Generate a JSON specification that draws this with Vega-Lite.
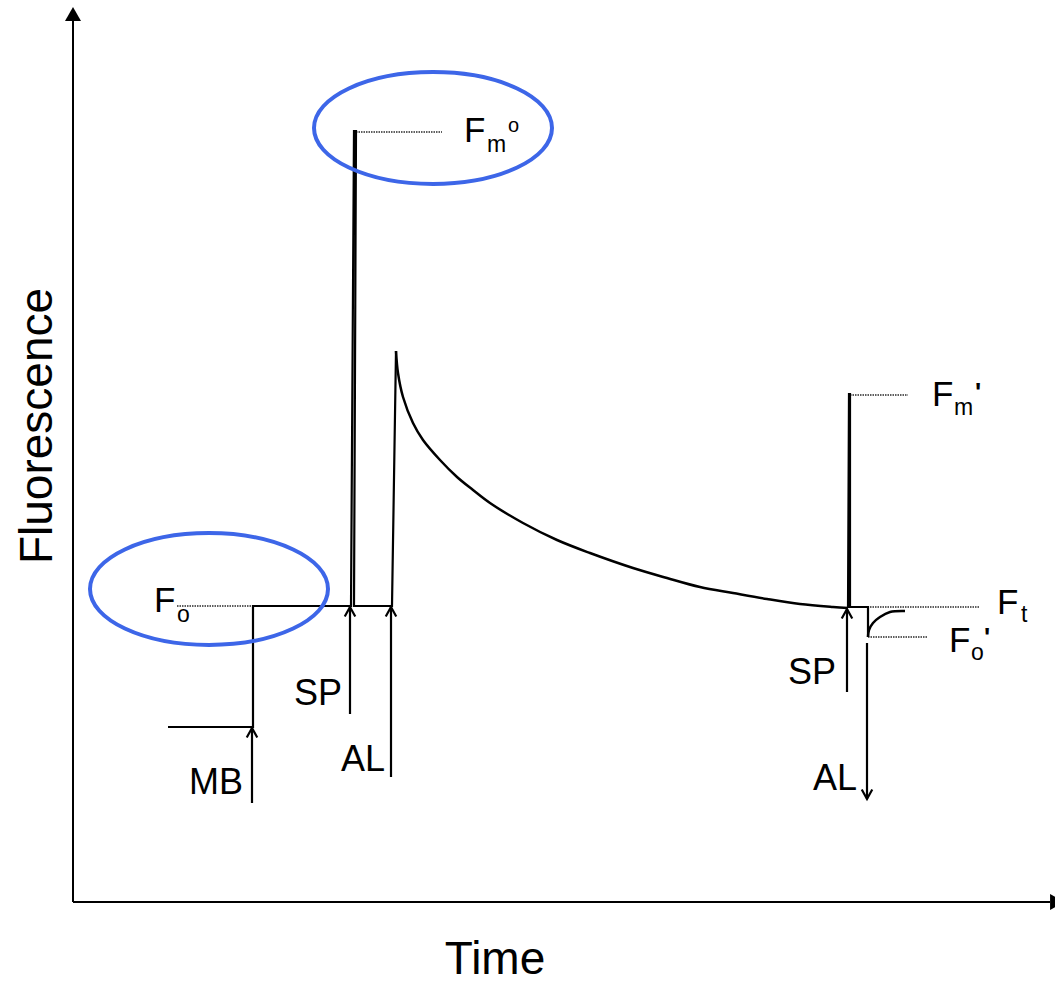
{
  "$schema": "https://vega.github.io/schema/vega-lite/v6.json",
  "width": 1055,
  "height": 982,
  "autosize": {"type": "none"},
  "padding": 0,
  "background": "white",
  "config": {"view": {"stroke": null}},
  "datasets": {
    "axes": [
      {"x": 0, "y": 0, "x2": 977, "y2": 0},
      {"x": 0, "y": 0, "x2": 0, "y2": 882}
    ],
    "yhead": [{"x": 0, "y": 888}],
    "xhead": [{"x": 984, "y": 0}],
    "trace": [
      {"part": "step1", "i": 1, "x": 95, "y": 175},
      {"part": "step1", "i": 2, "x": 180, "y": 175},
      {"part": "step1", "i": 3, "x": 180, "y": 296},
      {"part": "step1", "i": 4, "x": 278, "y": 296},
      {"part": "step1", "i": 5, "x": 281, "y": 771},
      {"part": "step1", "i": 6, "x": 283, "y": 771},
      {"part": "step1", "i": 7, "x": 281, "y": 296},
      {"part": "step1", "i": 8, "x": 319, "y": 296},
      {"part": "step1", "i": 9, "x": 323, "y": 551},
      {"part": "decay", "i": 1, "x": 323, "y": 551},
      {"part": "decay", "i": 2, "x": 325, "y": 529},
      {"part": "decay", "i": 3, "x": 330, "y": 505},
      {"part": "decay", "i": 4, "x": 340, "y": 479},
      {"part": "decay", "i": 5, "x": 350, "y": 462},
      {"part": "decay", "i": 6, "x": 367, "y": 442},
      {"part": "decay", "i": 7, "x": 384, "y": 425},
      {"part": "decay", "i": 8, "x": 400, "y": 412},
      {"part": "decay", "i": 9, "x": 417, "y": 399},
      {"part": "decay", "i": 10, "x": 450, "y": 379},
      {"part": "decay", "i": 11, "x": 484, "y": 362},
      {"part": "decay", "i": 12, "x": 517, "y": 349},
      {"part": "decay", "i": 13, "x": 560, "y": 334},
      {"part": "decay", "i": 14, "x": 594, "y": 324},
      {"part": "decay", "i": 15, "x": 627, "y": 315},
      {"part": "decay", "i": 16, "x": 660, "y": 309},
      {"part": "decay", "i": 17, "x": 694, "y": 303},
      {"part": "decay", "i": 18, "x": 727, "y": 298},
      {"part": "decay", "i": 19, "x": 760, "y": 295},
      {"part": "decay", "i": 20, "x": 775, "y": 294},
      {"part": "step2", "i": 1, "x": 775, "y": 294},
      {"part": "step2", "i": 2, "x": 776, "y": 508},
      {"part": "step2", "i": 3, "x": 777, "y": 508},
      {"part": "step2", "i": 4, "x": 777, "y": 295},
      {"part": "step2", "i": 5, "x": 795, "y": 295},
      {"part": "step2", "i": 6, "x": 795, "y": 265},
      {"part": "recover", "i": 1, "x": 795, "y": 265},
      {"part": "recover", "i": 2, "x": 796, "y": 272},
      {"part": "recover", "i": 3, "x": 800, "y": 279},
      {"part": "recover", "i": 4, "x": 807, "y": 285},
      {"part": "recover", "i": 5, "x": 817, "y": 290},
      {"part": "recover", "i": 6, "x": 832, "y": 291}
    ],
    "levels": [
      {"name": "Fo", "x": 104, "x2": 180, "y": 296},
      {"name": "Fm0", "x": 283, "x2": 369, "y": 770},
      {"name": "Fm'", "x": 777, "x2": 835, "y": 507},
      {"name": "Ft", "x": 777, "x2": 907, "y": 295},
      {"name": "Fo'", "x": 795, "x2": 855, "y": 265}
    ],
    "shafts": [
      {"name": "MB", "x": 179, "y": 174, "y2": 99},
      {"name": "SP", "x": 277, "y": 295, "y2": 188},
      {"name": "AL", "x": 318, "y": 295, "y2": 125},
      {"name": "SP", "x": 774, "y": 293, "y2": 210},
      {"name": "AL", "x": 794, "y": 259, "y2": 103}
    ],
    "upheads": [
      {"x": 179, "y": 174},
      {"x": 277, "y": 295},
      {"x": 318, "y": 295},
      {"x": 774, "y": 293}
    ],
    "downheads": [{"x": 794, "y": 103}],
    "bigLabels": [
      {"t": "MB", "x": 116, "y": 108},
      {"t": "SP", "x": 221, "y": 197},
      {"t": "AL", "x": 268, "y": 131},
      {"t": "SP", "x": 715, "y": 218},
      {"t": "AL", "x": 740, "y": 112}
    ],
    "fLabels": [
      {"t": "F", "x": 391, "y": 760},
      {"t": "F", "x": 81, "y": 290},
      {"t": "F", "x": 859, "y": 496},
      {"t": "F", "x": 924, "y": 288},
      {"t": "F", "x": 876, "y": 250}
    ],
    "subs": [
      {"t": "m", "x": 414, "y": 750},
      {"t": "o", "x": 104, "y": 280},
      {"t": "m", "x": 881, "y": 487},
      {"t": "t", "x": 948, "y": 280},
      {"t": "o", "x": 898, "y": 242}
    ],
    "supO": [{"t": "o", "x": 435, "y": 770}],
    "primes": [
      {"t": "'", "x": 902, "y": 501},
      {"t": "'", "x": 911, "y": 256}
    ],
    "ytitle": [{"t": "Fluorescence", "x": -21, "y": 476}],
    "xtitle": [{"t": "Time", "x": 422, "y": -72}],
    "ellipses": [
      {"x": 136, "y": 313},
      {"x": 360, "y": 774}
    ]
  },
  "encoding": {
    "x": {"field": "x", "type": "quantitative", "scale": {"domain": [-73, 982], "nice": false, "zero": false}, "axis": null},
    "y": {"field": "y", "type": "quantitative", "scale": {"domain": [-80, 902], "nice": false, "zero": false}, "axis": null}
  },
  "layer": [
    {
      "data": {"name": "axes"},
      "mark": {"type": "rule", "color": "black", "strokeWidth": 2},
      "encoding": {"x2": {"field": "x2"}, "y2": {"field": "y2"}}
    },
    {
      "data": {"name": "yhead"},
      "mark": {"type": "point", "shape": "triangle-up", "filled": true, "color": "black", "opacity": 1, "size": 256, "strokeWidth": 0}
    },
    {
      "data": {"name": "xhead"},
      "mark": {"type": "point", "shape": "triangle-right", "filled": true, "color": "black", "opacity": 1, "size": 256, "strokeWidth": 0}
    },
    {
      "data": {"name": "levels"},
      "mark": {"type": "rule", "color": "#5e5e5e", "strokeWidth": 2.2, "strokeDash": [1.5, 1]},
      "encoding": {"x2": {"field": "x2"}}
    },
    {
      "data": {"name": "trace"},
      "transform": [{"filter": "datum.part === 'step1' || datum.part === 'step2'"}],
      "mark": {"type": "line", "color": "black", "strokeWidth": 2.2, "interpolate": "linear"},
      "encoding": {"detail": {"field": "part"}, "order": {"field": "i", "type": "quantitative"}}
    },
    {
      "data": {"name": "trace"},
      "transform": [{"filter": "datum.part === 'decay' || datum.part === 'recover'"}],
      "mark": {"type": "line", "color": "black", "strokeWidth": 2.5, "interpolate": "catmull-rom"},
      "encoding": {"detail": {"field": "part"}, "order": {"field": "i", "type": "quantitative"}}
    },
    {
      "data": {"name": "shafts"},
      "mark": {"type": "rule", "color": "black", "strokeWidth": 2.2},
      "encoding": {"y2": {"field": "y2"}}
    },
    {
      "data": {"name": "upheads"},
      "mark": {"type": "point", "shape": "M -0.5 0.9 L 0 0 L 0.5 0.9", "filled": false, "color": "black", "opacity": 1, "size": 440, "strokeWidth": 2.2}
    },
    {
      "data": {"name": "downheads"},
      "mark": {"type": "point", "shape": "M -0.5 -0.9 L 0 0 L 0.5 -0.9", "filled": false, "color": "black", "opacity": 1, "size": 440, "strokeWidth": 2.2}
    },
    {
      "data": {"name": "bigLabels"},
      "mark": {"type": "text", "font": "Liberation Sans", "fontSize": 36, "align": "left", "baseline": "alphabetic", "color": "black"},
      "encoding": {"text": {"field": "t"}}
    },
    {
      "data": {"name": "fLabels"},
      "mark": {"type": "text", "font": "Liberation Sans", "fontSize": 35, "align": "left", "baseline": "alphabetic", "color": "black"},
      "encoding": {"text": {"field": "t"}}
    },
    {
      "data": {"name": "subs"},
      "mark": {"type": "text", "font": "Liberation Sans", "fontSize": 23, "align": "left", "baseline": "alphabetic", "color": "black"},
      "encoding": {"text": {"field": "t"}}
    },
    {
      "data": {"name": "supO"},
      "mark": {"type": "text", "font": "Liberation Sans", "fontSize": 20, "align": "left", "baseline": "alphabetic", "color": "black"},
      "encoding": {"text": {"field": "t"}}
    },
    {
      "data": {"name": "primes"},
      "mark": {"type": "text", "font": "Liberation Sans", "fontSize": 26, "fontWeight": "bold", "align": "left", "baseline": "alphabetic", "color": "black"},
      "encoding": {"text": {"field": "t"}}
    },
    {
      "data": {"name": "ytitle"},
      "mark": {"type": "text", "font": "Liberation Sans", "fontSize": 46, "align": "center", "baseline": "alphabetic", "angle": 270, "color": "black"},
      "encoding": {"text": {"field": "t"}}
    },
    {
      "data": {"name": "xtitle"},
      "mark": {"type": "text", "font": "Liberation Sans", "fontSize": 46, "align": "center", "baseline": "alphabetic", "color": "black"},
      "encoding": {"text": {"field": "t"}}
    },
    {
      "data": {"name": "ellipses"},
      "mark": {"type": "point", "shape": "M -1 0 C -1 -0.2596 -0.5523 -0.47 0 -0.47 C 0.5523 -0.47 1 -0.2596 1 0 C 1 0.2596 0.5523 0.47 0 0.47 C -0.5523 0.47 -1 0.2596 -1 0 Z", "filled": false, "color": "#3d66e8", "opacity": 1, "size": 56644, "strokeWidth": 4}
    }
  ]
}
